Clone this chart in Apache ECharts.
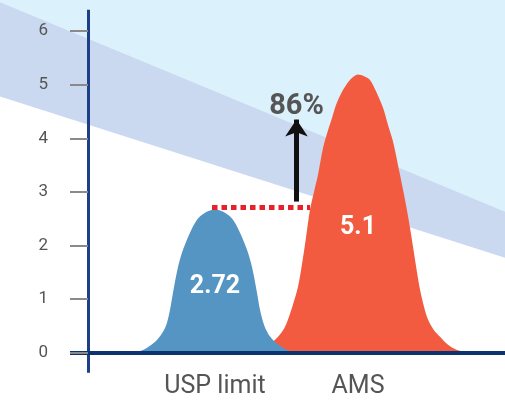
<!DOCTYPE html>
<html>
<head>
<meta charset="utf-8">
<script src="https://cdn.jsdelivr.net/npm/echarts@6/dist/echarts.min.js"></script>
<style>
html,body{margin:0;padding:0;background:#fff;}
#chart{width:505px;height:401px;}
</style>
</head>
<body>
<div id="chart"></div>
<script>
// ---- data ----
const categories = ['USP limit', 'AMS'];
const categoryPos = [127, 270];
const peakValues = [2.72, 5.1];
const improvement = '86%';
const yTicks = [0, 1, 2, 3, 4, 5, 6];

const uspX = [44, 50, 57, 62, 69, 75, 79, 82, 85, 90, 95, 102, 109, 117, 127, 137, 145, 152, 159, 164, 169, 172, 176, 180, 185, 192, 198, 204, 210];
const uspY = [0, 0.02, 0.07, 0.13, 0.24, 0.39, 0.56, 0.80, 1.12, 1.60, 1.92, 2.24, 2.48, 2.61, 2.67, 2.61, 2.48, 2.24, 1.92, 1.60, 1.12, 0.80, 0.52, 0.36, 0.24, 0.13, 0.06, 0.02, 0];

const amsX = [164, 174, 184, 190, 196, 200, 205, 210, 214, 218, 222, 226, 230, 235, 240, 244, 248, 254, 262, 270, 276, 282, 288, 295, 300, 305, 312, 316, 320, 324, 328, 332, 336, 340, 346, 352, 360, 368, 376, 384];
const amsY = [0, 0.02, 0.19, 0.30, 0.45, 0.62, 0.90, 1.23, 1.65, 2.15, 2.67, 3.00, 3.32, 3.82, 4.15, 4.38, 4.62, 4.87, 5.09, 5.19, 5.16, 5.09, 4.88, 4.57, 4.25, 3.94, 3.32, 2.95, 2.55, 2.10, 1.62, 1.18, 0.86, 0.62, 0.42, 0.30, 0.15, 0.06, 0.02, 0];

const bandX = [-88, 417];
const bandUpper = [6.54, 2.63];
const bandLower = [4.78, 1.77];

// ---- build ----
const zip = (xs, ys) => xs.map((x, i) => [x, ys[i]]);
const X_MIN = -88, X_MAX = 417, Y_MIN = -0.9, Y_MAX = 6.58;
const FONT = 'Roboto';

const option = {
  animation: false,
  backgroundColor: '#ffffff',
  grid: {left: 0, right: 0, top: 0, bottom: 0, containLabel: false, outerBoundsMode: 'none'},
  xAxis: {
    type: 'value', min: X_MIN, max: X_MAX, z: 10, position: 'bottom', offset: -48,
    splitLine: {show: false},
    axisLine: {show: true, onZero: false, lineStyle: {color: 'rgba(0,0,0,0)'}},
    axisTick: {show: false},
    axisLabel: {
      show: true, margin: 21, hideOverlap: false,
      customValues: categoryPos,
      formatter: v => categories[categoryPos.indexOf(v)] || '',
      fontFamily: FONT, fontSize: 25, color: '#555555'
    }
  },
  yAxis: {
    type: 'value', min: Y_MIN, max: Y_MAX, z: 10, position: 'left', offset: -88,
    splitLine: {show: false},
    axisLine: {show: true, onZero: false, lineStyle: {color: 'rgba(0,0,0,0)'}},
    axisTick: {show: true, customValues: yTicks, length: 18, lineStyle: {color: '#8a8a8a', width: 2}},
    axisLabel: {show: true, customValues: yTicks, margin: 40, hideOverlap: false, fontFamily: FONT, fontSize: 17, color: '#555555'}
  },
  series: [
    {
      type: 'line', data: zip(bandX, bandLower), showSymbol: false, silent: true,
      lineStyle: {width: 0}, areaStyle: {origin: 'end', color: '#cbd9f0', opacity: 1}, z: 1
    },
    {
      type: 'line', data: zip(bandX, bandUpper), showSymbol: false, silent: true,
      lineStyle: {width: 0}, areaStyle: {origin: 'end', color: '#dbf1fc', opacity: 1}, z: 1
    },
    {
      name: categories[1], type: 'line', data: zip(amsX, amsY), showSymbol: false,
      smooth: 0.3,
      lineStyle: {width: 0}, areaStyle: {color: '#f25b3f', opacity: 1}, z: 3,
      markPoint: {
        symbol: 'circle', symbolSize: 0,
        label: {show: true, position: 'inside', color: '#ffffff', fontFamily: FONT, fontWeight: 'bold', fontSize: 25, formatter: () => String(peakValues[1])},
        data: [{coord: [270, 2.33]}]
      }
    },
    {
      name: categories[0], type: 'line', data: zip(uspX, uspY), showSymbol: false,
      smooth: 0.3,
      lineStyle: {width: 0}, areaStyle: {color: '#5595c3', opacity: 1}, z: 4,
      markPoint: {
        symbol: 'circle', symbolSize: 0,
        label: {show: true, position: 'inside', color: '#ffffff', fontFamily: FONT, fontWeight: 'bold', fontSize: 25, formatter: () => String(peakValues[0])},
        data: [{coord: [127, 1.24]}]
      }
    },
    {
      type: 'line', data: [], z: 6, silent: true,
      markLine: {
        silent: true, symbol: ['none', 'none'], animation: false,
        label: {show: false},
        data: [
          [{coord: [124, peakValues[0]], lineStyle: {color: '#e8202a', width: 5, type: [5.5, 4], cap: 'butt'}},
           {coord: [222, peakValues[0]]}],
          [{coord: [208.5, 2.82], symbol: 'none', lineStyle: {color: '#111111', width: 5, type: 'solid'}},
           {coord: [208.5, 4.35], symbol: 'arrow', symbolSize: 17,
            label: {show: true, position: 'end', distance: -2, formatter: improvement, color: '#555555', fontFamily: FONT, fontWeight: 'bold', fontSize: 29}}],
          [{coord: [0, -0.373], lineStyle: {color: '#1c3f85', width: 3, type: 'solid'}},
           {coord: [0, 6.4]}],
          [{coord: [-18, 0], lineStyle: {color: '#0d3270', width: 4, type: 'solid'}},
           {coord: [417, 0]}]
        ]
      }
    }
  ]
};

const chart = echarts.init(document.getElementById('chart'), null, {renderer: 'canvas'});
chart.setOption(option);
</script>
</body>
</html>
